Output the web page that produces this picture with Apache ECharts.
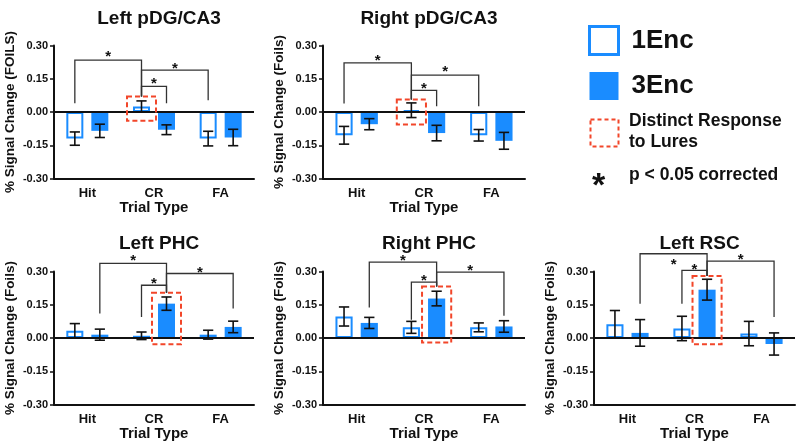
<!DOCTYPE html>
<html><head><meta charset="utf-8">
<script src="https://cdn.jsdelivr.net/npm/echarts@6/dist/echarts.min.js"></script>
<style>html,body{margin:0;padding:0;background:#fff}#c{width:800px;height:448px}</style>
</head><body><div id="c"></div>
<script>
// ---------------- data ----------------
const categories = ['Hit', 'CR', 'FA'];
const seriesNames = ['1Enc', '3Enc'];
const yTickValues = [-0.30, -0.15, 0.00, 0.15, 0.30];
const panelTitles = ['Left pDG/CA3', 'Right pDG/CA3', 'Left PHC', 'Right PHC', 'Left RSC'];
const yAxisNames = ['% Signal Change (FOILS)', '% Signal Change (Foils)', '% Signal Change (Foils)', '% Signal Change (Foils)', '% Signal Change (Foils)'];
const xAxisName = 'Trial Type';

// means (per category Hit, CR, FA)
const leftDG_1Enc = [-0.120, 0.025, -0.120];
const leftDG_3Enc = [-0.085, -0.080, -0.115];
const rightDG_1Enc = [-0.105, 0.008, -0.105];
const rightDG_3Enc = [-0.055, -0.095, -0.130];
const leftPHC_1Enc = [0.033, 0.010, 0.015];
const leftPHC_3Enc = [0.015, 0.155, 0.050];
const rightPHC_1Enc = [0.097, 0.048, 0.048];
const rightPHC_3Enc = [0.068, 0.178, 0.052];
const leftRSC_1Enc = [0.062, 0.043, 0.020];
const leftRSC_3Enc = [0.023, 0.218, -0.027];

// standard errors
const leftDG_1Enc_err = [0.030, 0.025, 0.033];
const leftDG_3Enc_err = [0.030, 0.022, 0.037];
const rightDG_1Enc_err = [0.040, 0.033, 0.026];
const rightDG_3Enc_err = [0.025, 0.035, 0.038];
const leftPHC_1Enc_err = [0.032, 0.017, 0.020];
const leftPHC_3Enc_err = [0.025, 0.030, 0.026];
const rightPHC_1Enc_err = [0.043, 0.027, 0.020];
const rightPHC_3Enc_err = [0.025, 0.033, 0.026];
const leftRSC_1Enc_err = [0.062, 0.055, 0.055];
const leftRSC_3Enc_err = [0.060, 0.047, 0.050];

// significance brackets: [fromCat, fromSeries, fromBottom, toCat, toSeries, toBottom, barTop, starValue]
const leftDG_brackets = [
  [0, 0, 0.040, 1, 0, 0.070, 0.234, 0.266],
  [1, 0, 0.070, 2, 0, 0.053, 0.189, 0.211],
  [1, 0, 0.070, 1, 1, 0.039, 0.116, 0.143]
];
const rightDG_brackets = [
  [0, 0, 0.038, 1, 0, 0.056, 0.222, 0.248],
  [1, 0, 0.056, 2, 0, 0.026, 0.166, 0.198],
  [1, 0, 0.056, 1, 1, 0.026, 0.098, 0.121]
];
const leftPHC_brackets = [
  [0, 1, 0.110, 1, 1, 0.204, 0.337, 0.364],
  [1, 0, 0.095, 1, 1, 0.204, 0.238, 0.261],
  [1, 1, 0.204, 2, 1, 0.133, 0.291, 0.314]
];
const rightPHC_brackets = [
  [0, 1, 0.138, 1, 1, 0.232, 0.342, 0.365],
  [1, 0, 0.082, 1, 1, 0.232, 0.252, 0.277],
  [1, 1, 0.232, 2, 1, 0.100, 0.297, 0.320]
];
const leftRSC_brackets = [
  [0, 1, 0.155, 1, 1, 0.280, 0.380, 0.350],
  [1, 0, 0.155, 1, 1, 0.280, 0.305, 0.327],
  [1, 1, 0.280, 2, 1, 0.095, 0.347, 0.372]
];

// "distinct response to lures" boxes: [cat, series, topValue, bottomValue]
const leftDG_box = [[1, 0, 0.070, -0.040]];
const rightDG_box = [[1, 0, 0.056, -0.056]];
const leftPHC_box = [[1, 1, 0.204, -0.028]];
const rightPHC_box = [[1, 1, 0.232, -0.020]];
const leftRSC_box = [[1, 1, 0.280, -0.028]];

const legendLabels = ['1Enc', '3Enc', 'Distinct Response', 'to Lures', 'p < 0.05 corrected'];

// ---------------- layout / style ----------------
const BLUE = '#1a8cff';
const RED = '#f2462a';
const FONT = '"Liberation Sans", Arial, Helvetica, sans-serif';
const CAT_GAP = 0.37, BAR_GAP = 0.47;

const panels = [
  {title: panelTitles[0], yName: yAxisNames[0], m: [leftDG_1Enc, leftDG_3Enc], e: [leftDG_1Enc_err, leftDG_3Enc_err], br: leftDG_brackets, box: leftDG_box,
   grid: {left: 54, top: 45.5, width: 200, height: 133}, titleTop: 4},
  {title: panelTitles[1], yName: yAxisNames[1], m: [rightDG_1Enc, rightDG_3Enc], e: [rightDG_1Enc_err, rightDG_3Enc_err], br: rightDG_brackets, box: rightDG_box,
   grid: {left: 323, top: 45.5, width: 202, height: 133}, titleTop: 4},
  {title: panelTitles[2], yName: yAxisNames[2], m: [leftPHC_1Enc, leftPHC_3Enc], e: [leftPHC_1Enc_err, leftPHC_3Enc_err], br: leftPHC_brackets, box: leftPHC_box,
   grid: {left: 54, top: 271.5, width: 200, height: 133}, titleTop: 229},
  {title: panelTitles[3], yName: yAxisNames[3], m: [rightPHC_1Enc, rightPHC_3Enc], e: [rightPHC_1Enc_err, rightPHC_3Enc_err], br: rightPHC_brackets, box: rightPHC_box,
   grid: {left: 323, top: 271.5, width: 202, height: 133}, titleTop: 229},
  {title: panelTitles[4], yName: yAxisNames[4], m: [leftRSC_1Enc, leftRSC_3Enc], e: [leftRSC_1Enc_err, leftRSC_3Enc_err], br: leftRSC_brackets, box: leftRSC_box,
   grid: {left: 594, top: 271.5, width: 201, height: 133}, titleTop: 229}
];

function barInfo(band) {
  const bw = band * (1 - CAT_GAP) / (2 + BAR_GAP);
  return {bw: bw, off: bw * (1 + BAR_GAP) / 2};
}
function barX(api, cat, ser) {
  const band = api.size([1, 0])[0];
  const info = barInfo(band);
  return api.coord([cat, 0])[0] + (ser === 0 ? -info.off : info.off);
}

function errRender(ser) {
  return function (params, api) {
    const band = api.size([1, 0])[0];
    const info = barInfo(band);
    const cx = barX(api, api.value(0), ser);
    const mean = api.value(1), err = api.value(2);
    const yT = api.coord([api.value(0), mean + err])[1];
    const yB = api.coord([api.value(0), mean - err])[1];
    const hw = info.bw * 0.3;
    const st = {stroke: '#111', lineWidth: 1.6};
    return {type: 'group', children: [
      {type: 'line', shape: {x1: cx, y1: yT, x2: cx, y2: yB}, style: st},
      {type: 'line', shape: {x1: cx - hw, y1: yT, x2: cx + hw, y2: yT}, style: st},
      {type: 'line', shape: {x1: cx - hw, y1: yB, x2: cx + hw, y2: yB}, style: st}
    ]};
  };
}

function bracketRender(params, api) {
  const x1 = barX(api, api.value(0), api.value(1));
  const y1 = api.coord([0, api.value(2)])[1];
  const x2 = barX(api, api.value(3), api.value(4));
  const y2 = api.coord([0, api.value(5)])[1];
  const yT = api.coord([0, api.value(6)])[1];
  const yS = api.coord([0, api.value(7)])[1];
  return {type: 'group', children: [
    {type: 'polyline', shape: {points: [[x1, y1], [x1, yT], [x2, yT], [x2, y2]]},
     style: {stroke: '#333', lineWidth: 1.3, fill: null}},
    {type: 'text', style: {text: '*', x: (x1 + x2) / 2, y: yS + 4, align: 'center', verticalAlign: 'middle',
      font: 'bold 15px ' + FONT, fill: '#111'}}
  ]};
}

function boxRender(params, api) {
  const band = api.size([1, 0])[0];
  const info = barInfo(band);
  const cx = barX(api, api.value(0), api.value(1));
  const yT = api.coord([0, api.value(2)])[1];
  const yB = api.coord([0, api.value(3)])[1];
  const hw = info.bw / 2 + 6;
  return {type: 'rect', shape: {x: cx - hw, y: yT, width: 2 * hw, height: yB - yT},
    style: {stroke: RED, lineWidth: 2, lineDash: [5, 3], fill: null}, z2: 10};
}

const option = {
  animation: false,
  backgroundColor: '#fff',
  textStyle: {fontFamily: FONT},
  title: [], grid: [], xAxis: [], yAxis: [], series: [],
  legend: {
    data: [
      {name: seriesNames[0], icon: 'rect', itemStyle: {color: '#fff', borderColor: BLUE, borderWidth: 3}},
      {name: seriesNames[1], icon: 'rect', itemStyle: {color: BLUE}}
    ],
    orient: 'vertical', left: 588, top: 25, padding: 0,
    itemWidth: 29, itemHeight: 28, itemGap: 16, selectedMode: false,
    textStyle: {fontSize: 26, fontWeight: 'bold', color: '#111', fontFamily: FONT, padding: [0, 0, 0, 8]}
  },
  graphic: [
    {type: 'rect', left: 588, top: 117, shape: {width: 28, height: 27},
     style: {stroke: RED, lineWidth: 2, lineDash: [4, 3], fill: null}},
    {type: 'text', left: 629, top: 112, style: {text: legendLabels[2], font: 'bold 17.5px ' + FONT, fill: '#111'}},
    {type: 'text', left: 629, top: 133, style: {text: legendLabels[3], font: 'bold 17.5px ' + FONT, fill: '#111'}},
    {type: 'text', left: 592, top: 170, style: {text: '*', font: 'bold 34px ' + FONT, fill: '#111'}},
    {type: 'text', left: 629, top: 166, style: {text: legendLabels[4], font: 'bold 17.5px ' + FONT, fill: '#111'}}
  ]
};

panels.forEach(function (p, i) {
  option.title.push({
    text: p.title, left: p.grid.left + p.grid.width / 2, top: p.titleTop, textAlign: 'center',
    textStyle: {fontSize: 19, fontWeight: 'bold', color: '#111', fontFamily: FONT}
  });
  option.grid.push(p.grid);
  option.xAxis.push({
    type: 'category', gridIndex: i, data: categories,
    axisLine: {onZero: false, lineStyle: {color: '#111', width: 2}},
    axisTick: {show: false},
    axisLabel: {fontSize: 13, fontWeight: 'bold', color: '#111', margin: 8},
    name: xAxisName, nameLocation: 'middle', nameGap: 21,
    nameTextStyle: {fontSize: 15, fontWeight: 'bold', color: '#111'}
  });
  option.yAxis.push({
    type: 'value', gridIndex: i, min: yTickValues[0], max: yTickValues[yTickValues.length - 1], interval: 0.15,
    axisLine: {show: true, lineStyle: {color: '#111', width: 2}},
    axisTick: {show: true, length: 4, lineStyle: {color: '#111', width: 1.5}},
    splitLine: {show: false},
    axisLabel: {fontSize: 11, fontWeight: 'bold', color: '#111', margin: 6,
      formatter: function (v) { return (Math.abs(v) < 1e-9 ? 0 : v).toFixed(2); }},
    name: p.yName, nameLocation: 'middle', nameGap: 37, nameRotate: 90,
    nameTextStyle: {fontSize: 13.5, fontWeight: 'bold', color: '#111'}
  });
  option.series.push({
    type: 'bar', name: seriesNames[0], xAxisIndex: i, yAxisIndex: i, data: p.m[0],
    barCategoryGap: (CAT_GAP * 100) + '%', barGap: (BAR_GAP * 100) + '%',
    itemStyle: {color: '#fff', borderColor: BLUE, borderWidth: 2}
  });
  option.series.push({
    type: 'bar', name: seriesNames[1], xAxisIndex: i, yAxisIndex: i, data: p.m[1],
    barCategoryGap: (CAT_GAP * 100) + '%', barGap: (BAR_GAP * 100) + '%',
    itemStyle: {color: BLUE},
    markLine: {silent: true, symbol: 'none', label: {show: false}, animation: false,
      lineStyle: {color: '#111', width: 2, type: 'solid'}, data: [{yAxis: 0}]}
  });
  [0, 1].forEach(function (s) {
    option.series.push({
      type: 'custom', xAxisIndex: i, yAxisIndex: i, z: 5,
      data: categories.map(function (c, k) { return [k, p.m[s][k], p.e[s][k]]; }),
      encode: {x: 0, y: 1}, renderItem: errRender(s)
    });
  });
  option.series.push({
    type: 'custom', xAxisIndex: i, yAxisIndex: i, z: 6, clip: false,
    data: p.br, encode: {x: 0, y: 6}, renderItem: bracketRender
  });
  option.series.push({
    type: 'custom', xAxisIndex: i, yAxisIndex: i, z: 7, clip: false,
    data: p.box, encode: {x: 0, y: 2}, renderItem: boxRender
  });
});

const chart = echarts.init(document.getElementById('c'), null, {renderer: 'canvas'});
chart.setOption(option);
</script>
</body></html>
